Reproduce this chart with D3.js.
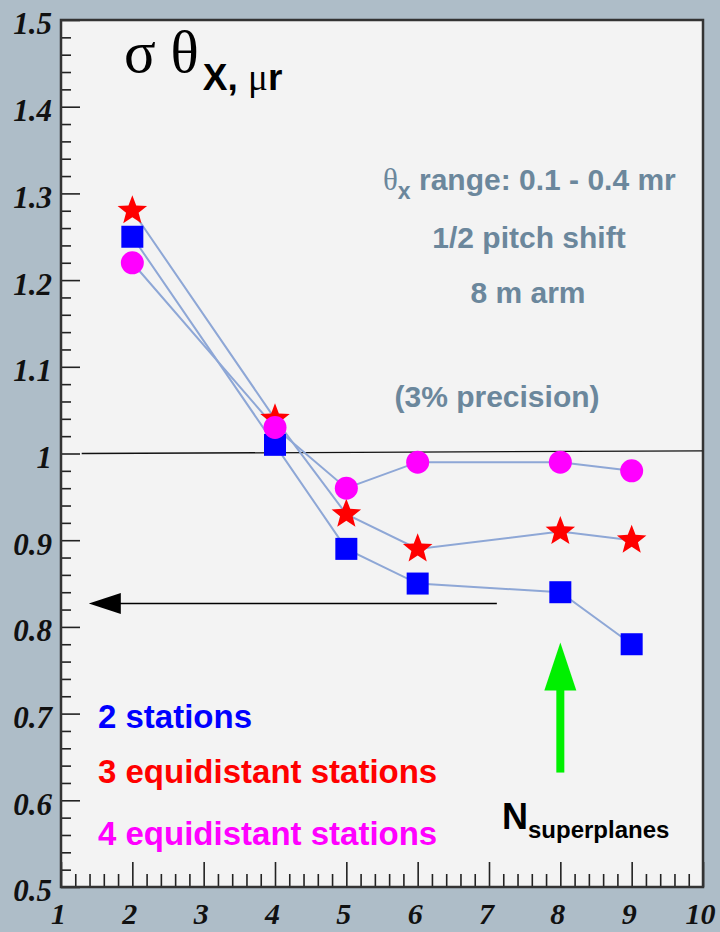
<!DOCTYPE html>
<html>
<head>
<meta charset="utf-8">
<script src="https://cdn.jsdelivr.net/npm/d3@7"></script>
<style>
  html, body { margin: 0; padding: 0; background: #aebdc8; }
  svg { display: block; }
</style>
</head>
<body>
<script>
// ---------------- data ----------------
const nSuperplanes = [2, 4, 5, 6, 8, 9];
const twoStations = [1.25, 1.01, 0.89, 0.85, 0.84, 0.78];
const threeStations = [1.28, 1.04, 0.93, 0.89, 0.91, 0.90];
const fourStations = [1.22, 1.03, 0.96, 0.99, 0.99, 0.98];
const seriesNames = ["2 stations", "3 equidistant stations", "4 equidistant stations"];

const xTickValues = [1, 2, 3, 4, 5, 6, 7, 8, 9, 10];
const xTickLabels = ["1", "2", "3", "4", "5", "6", "7", "8", "9", "10"];
const yTickValues = [0.5, 0.6, 0.7, 0.8, 0.9, 1.0, 1.1, 1.2, 1.3, 1.4, 1.5];
const yTickLabels = ["0.5", "0.6", "0.7", "0.8", "0.9", "1", "1.1", "1.2", "1.3", "1.4", "1.5"];

const referenceLine = [[1.29, 1.0], [9.99, 1.003]];
const blackArrow = [[7.11, 0.827], [1.39, 0.827]];
const greenArrow = [[8.0, 0.632], [8.0, 0.782]];

// ---------------- layout ----------------
const W = 720, H = 932;
const L = 61, R = 703, T = 20, B = 887;

const svg = d3.select("body").append("svg")
  .attr("width", W).attr("height", H);

svg.append("rect").attr("width", W).attr("height", H).attr("fill", "#aebdc8");

const x = d3.scaleLinear().domain([1, 10]).range([L, R]);
const y = d3.scaleLinear().domain([0.5, 1.5]).range([B, T]);

svg.append("rect").attr("x", L).attr("y", T).attr("width", R - L).attr("height", B - T)
  .attr("fill", "#f3f3f3");

// ---------------- axes ----------------
const tickFont = "'Liberation Serif', 'Times New Roman', serif";

const xMinor = d3.range(1, 10.0001, 0.2).filter(v => Math.abs(v - Math.round(v)) > 1e-6);
const yMinor = d3.range(0.5, 1.50001, 0.02).filter(v => Math.abs(v * 10 - Math.round(v * 10)) > 1e-6);

const gxMinor = svg.append("g").attr("transform", `translate(0,${B})`)
  .call(d3.axisBottom(x).tickValues(xMinor).tickSize(-13).tickFormat(""));
const gx = svg.append("g").attr("transform", `translate(0,${B})`)
  .call(d3.axisBottom(x).tickValues(xTickValues).tickSize(-25)
    .tickFormat((d, i) => xTickLabels[i]));
const gyMinor = svg.append("g").attr("transform", `translate(${L},0)`)
  .call(d3.axisLeft(y).tickValues(yMinor).tickSize(-10).tickFormat(""));
const gy = svg.append("g").attr("transform", `translate(${L},0)`)
  .call(d3.axisLeft(y).tickValues(yTickValues).tickSize(-19)
    .tickFormat((d, i) => yTickLabels[i]));

[gxMinor, gx, gyMinor, gy].forEach(g => {
  g.select(".domain").remove();
  g.selectAll(".tick line").attr("stroke", "#222").attr("stroke-width", 1.6);
});

gx.selectAll(".tick text")
  .attr("y", 37).attr("dy", 0).attr("x", -3)
  .attr("fill", "#111")
  .style("font-family", tickFont).style("font-size", "30px")
  .style("font-weight", "bold").style("font-style", "italic");

gy.selectAll(".tick text")
  .attr("x", -9).attr("dy", "0.45em")
  .attr("fill", "#111")
  .style("font-family", tickFont).style("font-size", "31px")
  .style("font-weight", "bold").style("font-style", "italic");

// frame
svg.append("rect").attr("x", L).attr("y", T).attr("width", R - L).attr("height", B - T)
  .attr("fill", "none").attr("stroke", "#333").attr("stroke-width", 2.5);

// ---------------- reference line ----------------
const line = d3.line().x(d => x(d[0])).y(d => y(d[1]));
svg.append("path").attr("d", line(referenceLine))
  .attr("stroke", "#111").attr("stroke-width", 1.3).attr("fill", "none");

// ---------------- series ----------------
const allSeries = [
  { name: seriesNames[0], values: twoStations, color: "#0000ff", marker: "square" },
  { name: seriesNames[1], values: threeStations, color: "#ff0000", marker: "star" },
  { name: seriesNames[2], values: fourStations, color: "#ff00ff", marker: "circle" }
];

const seriesLine = d3.line().x((d, i) => x(nSuperplanes[i])).y(d => y(d));
allSeries.forEach(s => {
  svg.append("path").attr("d", seriesLine(s.values))
    .attr("fill", "none").attr("stroke", "#8ea7d6").attr("stroke-width", 2);
});

function starPath(R0, r0) {
  const pts = [];
  for (let k = 0; k < 10; k++) {
    const a = -Math.PI / 2 + k * Math.PI / 5;
    const rr = k % 2 === 0 ? R0 : r0;
    pts.push([rr * Math.cos(a), rr * Math.sin(a)]);
  }
  return "M" + pts.map(p => p[0].toFixed(2) + "," + p[1].toFixed(2)).join("L") + "Z";
}

// draw order: squares, stars, circles
allSeries.forEach(s => {
  const g = svg.append("g");
  s.values.forEach((v, i) => {
    const cx = x(nSuperplanes[i]), cy = y(v);
    if (s.marker === "square") {
      g.append("rect").attr("x", cx - 11).attr("y", cy - 11)
        .attr("width", 22).attr("height", 22).attr("fill", s.color);
    } else if (s.marker === "star") {
      g.append("path").attr("d", starPath(15.5, 6.6))
        .attr("transform", `translate(${cx},${cy})`).attr("fill", s.color);
    } else {
      g.append("circle").attr("cx", cx).attr("cy", cy).attr("r", 11.5).attr("fill", s.color);
    }
  });
});

// ---------------- arrows ----------------
{
  const [a, b] = blackArrow;
  const x0 = x(a[0]), y0 = y(a[1]), x1 = x(b[0]);
  svg.append("line").attr("x1", x0).attr("y1", y0).attr("x2", x1 + 30).attr("y2", y0)
    .attr("stroke", "#000").attr("stroke-width", 1.5);
  svg.append("path")
    .attr("d", `M${x1},${y0}L${x1 + 32},${y0 - 10.5}L${x1 + 32},${y0 + 10.5}Z`)
    .attr("fill", "#000");
}
{
  const [a, b] = greenArrow;
  const gx0 = x(a[0]), y0 = y(a[1]), y1 = y(b[1]);
  svg.append("rect").attr("x", gx0 - 4).attr("y", y1 + 46).attr("width", 8).attr("height", y0 - (y1 + 46))
    .attr("fill", "#00f000");
  svg.append("path")
    .attr("d", `M${gx0},${y1}L${gx0 - 16},${y1 + 48}L${gx0 + 16},${y1 + 48}Z`)
    .attr("fill", "#00f000");
}

// ---------------- texts ----------------
const sans = "'Liberation Sans', Arial, Helvetica, sans-serif";
const serif = "'Liberation Serif', 'Times New Roman', serif";

// title
const title = svg.append("text").attr("x", 124).attr("y", 72).attr("fill", "#000");
title.append("tspan").text("σ θ").style("font-family", serif).style("font-size", "59px");
title.append("tspan").text("X, ").attr("dy", 18).attr("dx", 4)
  .style("font-family", sans).style("font-size", "37px").style("font-weight", "bold");
title.append("tspan").text("μ").style("font-family", serif).style("font-size", "37px");
title.append("tspan").text("r")
  .style("font-family", sans).style("font-size", "37px").style("font-weight", "bold");

// info box text
const infoColor = "#6b879c";
const t1 = svg.append("text").attr("x", 383).attr("y", 190).attr("fill", infoColor)
  .style("font-family", sans).style("font-weight", "bold").style("font-size", "30px");
t1.append("tspan").text("θ").style("font-family", serif).style("font-weight", "normal").style("font-size", "31px");
t1.append("tspan").text("x").attr("dy", 9).style("font-size", "23px");
t1.append("tspan").text(" range: 0.1 - 0.4 mr").attr("dy", -9);

[["1/2 pitch shift", 529, 248], ["8 m arm", 528, 303], ["(3% precision)", 497, 407]].forEach(d => {
  svg.append("text").attr("x", d[1]).attr("y", d[2]).attr("text-anchor", "middle")
    .attr("fill", infoColor)
    .style("font-family", sans).style("font-weight", "bold").style("font-size", "30px")
    .text(d[0]);
});

// legend
const legendY = [728, 783, 845];
allSeries.forEach((s, i) => {
  svg.append("text").attr("x", 98).attr("y", legendY[i]).attr("fill", s.color)
    .style("font-family", sans).style("font-weight", "bold").style("font-size", "33px")
    .text(s.name);
});

// x axis title
const xt = svg.append("text").attr("x", 502).attr("y", 829).attr("fill", "#000")
  .style("font-family", sans).style("font-weight", "bold");
xt.append("tspan").text("N").style("font-size", "36px");
xt.append("tspan").text("superplanes").attr("dy", 9).style("font-size", "24px");
</script>
</body>
</html>
